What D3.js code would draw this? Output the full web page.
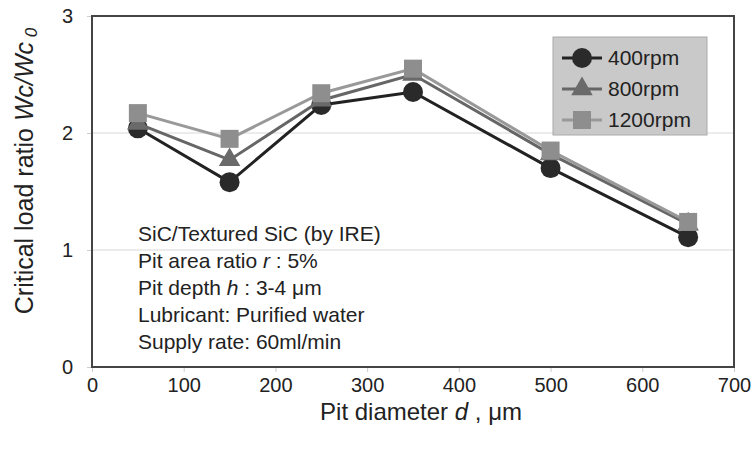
<!DOCTYPE html>
<html>
<head>
<meta charset="utf-8">
<script src="https://cdn.jsdelivr.net/npm/d3@7"></script>
<style>
  body { margin: 0; background: #fff; }
  svg { font-family: "Liberation Sans", Arial, sans-serif; }
</style>
</head>
<body>
<div id="chart"></div>
<script>
// pit diameters (µm)
const diameters = [50, 150, 250, 350, 500, 650];
const rpm400  = [2.04, 1.58, 2.24, 2.35, 1.70, 1.11];
const rpm800  = [2.08, 1.77, 2.28, 2.50, 1.82, 1.22];
const rpm1200 = [2.17, 1.95, 2.34, 2.55, 1.85, 1.24];
const xTicks = [0, 100, 200, 300, 400, 500, 600, 700];
const yTicks = [0, 1, 2, 3];

const series = [
  { name: "400rpm",  values: rpm400,  line: "#222", fill: "#2a2a2a", shape: "circle" },
  { name: "800rpm",  values: rpm800,  line: "#666", fill: "#6a6a6a", shape: "triangle" },
  { name: "1200rpm", values: rpm1200, line: "#999", fill: "#8e8e8e", shape: "square" }
];

const W = 755, H = 450;
const m = { left: 92, right: 21, top: 16, bottom: 83 };

const svg = d3.select("#chart").append("svg")
  .attr("width", W).attr("height", H);

const x = d3.scaleLinear().domain([0, 700]).range([m.left, W - m.right]);
const y = d3.scaleLinear().domain([0, 3]).range([H - m.bottom, m.top]);

// faint gridlines
svg.append("g")
  .selectAll("line")
  .data(yTicks.filter(t => t > 0 && t < 3))
  .join("line")
  .attr("x1", x(0)).attr("x2", x(700))
  .attr("y1", d => y(d)).attr("y2", d => y(d))
  .attr("stroke", "#d8d8d8").attr("stroke-width", 1);

// axes
const xAxis = svg.append("g")
  .attr("transform", `translate(0,${y(0)})`)
  .call(d3.axisBottom(x).tickValues(xTicks).tickSize(5).tickPadding(6));
const yAxis = svg.append("g")
  .attr("transform", `translate(${x(0)},0)`)
  .call(d3.axisLeft(y).tickValues(yTicks).tickSize(5).tickPadding(14).tickFormat(d3.format("d")));

[xAxis, yAxis].forEach(a => {
  a.select(".domain").remove();
  a.selectAll(".tick line").attr("stroke", "#ccc");
  a.selectAll(".tick text").attr("font-size", 20).attr("fill", "#222")
    .attr("font-family", "Liberation Sans, Arial, sans-serif");
});

// plot frame
svg.append("rect")
  .attr("x", x(0)).attr("y", y(3))
  .attr("width", x(700) - x(0)).attr("height", y(0) - y(3))
  .attr("fill", "none").attr("stroke", "#444").attr("stroke-width", 2);

function drawMarker(g, shape, color) {
  if (shape === "circle") {
    g.append("circle").attr("r", 10).attr("fill", color);
  } else if (shape === "triangle") {
    g.append("path").attr("d", d3.symbol(d3.symbolTriangle, 200)()).attr("fill", color);
  } else {
    g.append("rect").attr("x", -9).attr("y", -9).attr("width", 18).attr("height", 18).attr("fill", color);
  }
}

const line = d3.line().x(d => x(d[0])).y(d => y(d[1]));

series.forEach(s => {
  const pts = diameters.map((d, i) => [d, s.values[i]]);
  svg.append("path")
    .datum(pts)
    .attr("d", line)
    .attr("fill", "none")
    .attr("stroke", s.line)
    .attr("stroke-width", 3);
  svg.append("g").selectAll("g")
    .data(pts)
    .join("g")
    .attr("transform", d => `translate(${x(d[0])},${y(d[1])})`)
    .each(function () { drawMarker(d3.select(this), s.shape, s.fill); });
});

// legend
const lg = svg.append("g").attr("transform", "translate(553,37)");
lg.append("rect").attr("width", 154).attr("height", 98)
  .attr("fill", "#c9c9c9").attr("stroke", "#aaa").attr("stroke-width", 1);
series.forEach((s, i) => {
  const row = lg.append("g").attr("transform", `translate(0,${21 + i * 31})`);
  row.append("line").attr("x1", 9).attr("x2", 49)
    .attr("stroke", s.line).attr("stroke-width", 3);
  drawMarker(row.append("g").attr("transform", "translate(29,0)"), s.shape, s.fill);
  row.append("text").attr("x", 55).attr("dy", "0.35em")
    .attr("font-size", 21).attr("fill", "#222").text(s.name);
});

// annotation block
const notes = [
  [["SiC/Textured SiC (by IRE)", false]],
  [["Pit area ratio ", false], ["r", true], [" : 5%", false]],
  [["Pit depth ", false], ["h", true], [" : 3-4 μm", false]],
  [["Lubricant: Purified water", false]],
  [["Supply rate: 60ml/min", false]]
];
const nt = svg.append("text").attr("font-size", 21).attr("fill", "#222");
notes.forEach((parts, i) => {
  parts.forEach(([txt, it], j) => {
    const t = nt.append("tspan").text(txt).attr("font-style", it ? "italic" : null);
    if (j === 0) t.attr("x", 138).attr("y", 241 + i * 27);
  });
});

// axis titles
const xt = svg.append("text")
  .attr("x", (x(0) + x(700)) / 2 + 8).attr("y", 420)
  .attr("text-anchor", "middle").attr("font-size", 24).attr("fill", "#222");
xt.append("tspan").text("Pit diameter ");
xt.append("tspan").attr("font-style", "italic").text("d");
xt.append("tspan").text(" , μm");

const yt = svg.append("text")
  .attr("transform", `translate(33,171) rotate(-90)`)
  .attr("text-anchor", "middle").attr("font-size", 25).attr("fill", "#222");
yt.append("tspan").text("Critical load ratio  ");
yt.append("tspan").attr("font-style", "italic").text("Wc/Wc");
yt.append("tspan").attr("font-style", "italic").attr("font-size", 17).attr("dy", 4).text(" 0");
</script>
</body>
</html>
